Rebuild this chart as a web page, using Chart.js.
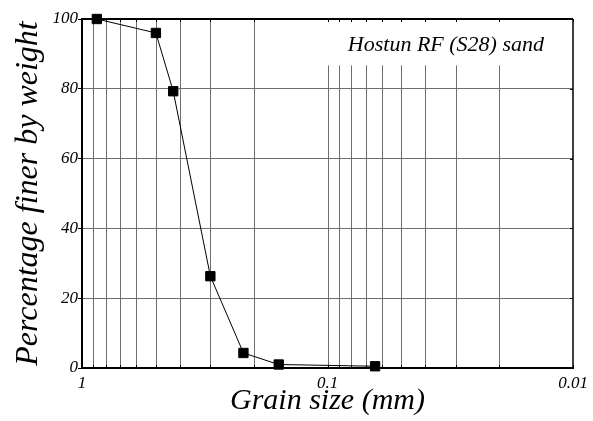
<!DOCTYPE html>
<html>
<head>
<meta charset="utf-8">
<script src="https://cdn.jsdelivr.net/npm/chart.js@4"></script>
<style>
  body { margin: 0; background: #fff; }
  #wrap { width: 593px; height: 421px; }
</style>
</head>
<body>
<div id="wrap"><canvas id="grafico"></canvas></div>
<script>
// dados da curva granulométrica
const grainSize = [0.87, 0.5, 0.425, 0.3, 0.22, 0.158, 0.064];
const percentFiner = [100, 96, 79.3, 26.3, 4.3, 1.0, 0.5];

// ticks do eixo x (log, invertido)
const xGridTicks = [1, 0.9, 0.8, 0.7, 0.6, 0.5, 0.4, 0.3, 0.2,
                    0.1, 0.09, 0.08, 0.07, 0.06, 0.05, 0.04, 0.03, 0.02, 0.01];
const xMajorTicks = [1, 0.1, 0.01];
const xTickLabels = ['1', '0.1', '0.01'];
const yTicks = [0, 20, 40, 60, 80, 100];

const sampleName = 'Hostun RF (S28) sand';
const shortGridTop = 86.7; // linhas da parte fina param aqui (deixa espaço pro texto)

const serif = '"Liberation Serif", "DejaVu Serif", serif';
const gridColor = '#6e6e6e';

// desenha grade vertical, marquinhas internas e moldura
const gradePlugin = {
    id: 'grade',
    beforeDatasetsDraw(chart) {
        const ctx = chart.ctx;
        const x = chart.scales.x, y = chart.scales.y;
        const area = chart.chartArea;
        ctx.save();
        ctx.strokeStyle = gridColor;
        ctx.lineWidth = 1;
        xGridTicks.forEach(v => {
            if (v === 1 || v === 0.01) return;
            const px = Math.round(x.getPixelForValue(v)) + 0.5;
            const top = v <= 0.1 ? y.getPixelForValue(shortGridTop) : area.top;
            ctx.beginPath();
            ctx.moveTo(px, top);
            ctx.lineTo(px, area.bottom);
            ctx.stroke();
        });
        // marquinhas para dentro
        ctx.strokeStyle = '#000';
        xGridTicks.forEach(v => {
            const px = Math.round(x.getPixelForValue(v)) + 0.5;
            ctx.beginPath();
            ctx.moveTo(px, area.top);
            ctx.lineTo(px, area.top + 3);
            ctx.moveTo(px, area.bottom);
            ctx.lineTo(px, area.bottom - 3);
            ctx.stroke();
        });
        yTicks.forEach(v => {
            const py = Math.round(y.getPixelForValue(v)) + 0.5;
            ctx.beginPath();
            ctx.moveTo(area.right, py);
            ctx.lineTo(area.right - 3, py);
            ctx.stroke();
        });
        ctx.restore();
    },
    afterDraw(chart) {
        const ctx = chart.ctx;
        const area = chart.chartArea;
        ctx.save();
        ctx.strokeStyle = '#000';
        ctx.lineWidth = 2;
        ctx.beginPath();
        ctx.moveTo(area.left, area.top);
        ctx.lineTo(area.right, area.top);
        ctx.stroke();
        ctx.lineWidth = 1.5;
        ctx.beginPath();
        ctx.moveTo(area.right, area.top);
        ctx.lineTo(area.right, area.bottom);
        ctx.stroke();
        // nome da amostra
        ctx.fillStyle = '#000';
        ctx.font = 'italic 22px ' + serif;
        ctx.textAlign = 'right';
        ctx.textBaseline = 'alphabetic';
        ctx.fillText(sampleName, area.right - 29, area.top + 32);
        ctx.restore();
    }
};

const ctx = document.getElementById('grafico').getContext('2d');

new Chart(ctx, {
    type: 'line',
    data: {
        datasets: [{
            data: grainSize.map((g, i) => ({ x: g, y: percentFiner[i] })),
            borderColor: '#000',
            borderWidth: 1,
            backgroundColor: '#000',
            pointStyle: 'rect',
            pointRadius: 6.6,
            pointHoverRadius: 6.6,
            tension: 0,
            clip: false
        }]
    },
    options: {
        responsive: true,
        maintainAspectRatio: false,
        animation: false,
        layout: { padding: { top: 19, right: 20, left: 0, bottom: 0 } },
        plugins: {
            legend: { display: false },
            tooltip: { enabled: false }
        },
        scales: {
            x: {
                type: 'logarithmic',
                reverse: true,
                min: 0.01,
                max: 1,
                afterBuildTicks(scale) {
                    scale.ticks = xGridTicks.map(v => ({ value: v }));
                },
                afterFit(scale) { scale.height = 53; },
                grid: { display: false, drawTicks: false },
                border: { display: true, color: '#000', width: 2 },
                ticks: {
                    autoSkip: false,
                    maxRotation: 0,
                    padding: 5,
                    color: '#000',
                    font: { family: serif, style: 'italic', size: 17 },
                    callback(value) {
                        const i = xMajorTicks.findIndex(m => Math.abs(m - value) < 1e-9);
                        return i >= 0 ? xTickLabels[i] : '';
                    }
                },
                title: {
                    display: true,
                    text: 'Grain size (mm)',
                    color: '#000',
                    padding: { top: 0, bottom: 2 },
                    font: { family: serif, style: 'italic', size: 30, weight: 'normal' }
                }
            },
            y: {
                min: 0,
                max: 100,
                afterBuildTicks(scale) {
                    scale.ticks = yTicks.map(v => ({ value: v }));
                },
                afterFit(scale) { scale.width = 82; },
                grid: { color: gridColor, tickColor: '#000', tickLength: 4, drawTicks: true },
                border: { display: true, color: '#000', width: 2 },
                ticks: {
                    padding: 0,
                    color: '#000',
                    font: { family: serif, style: 'italic', size: 17 }
                },
                title: {
                    display: true,
                    text: 'Percentage finer by weight',
                    color: '#000',
                    padding: { top: 9, bottom: 0 },
                    font: { family: serif, style: 'italic', size: 32, weight: 'normal' }
                }
            }
        }
    },
    plugins: [gradePlugin]
});
</script>
</body>
</html>
